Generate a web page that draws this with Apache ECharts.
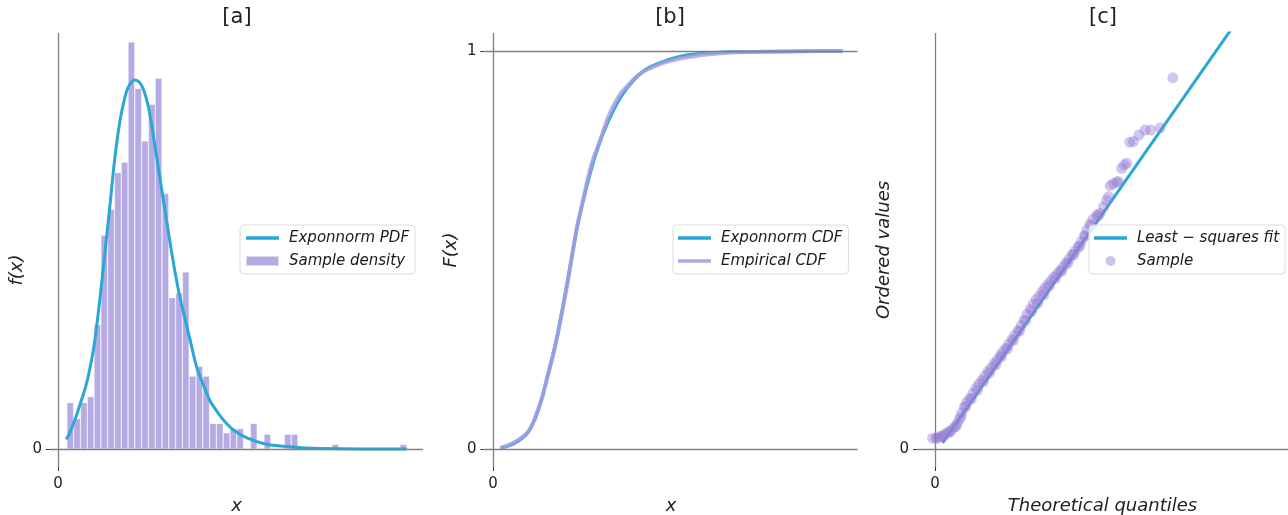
<!DOCTYPE html>
<html>
<head>
<meta charset="utf-8">
<script src="https://cdn.jsdelivr.net/npm/echarts@6/dist/echarts.min.js"></script>
<style>
  html, body { margin: 0; padding: 0; background: #fff; }
  #chart { width: 1288px; height: 515px; }
</style>
</head>
<body>
<div id="chart"></div>
<script>
// [a] histogram of the sample and fitted pdf
const binCenters = [0.18, 0.28, 0.38, 0.48, 0.58, 0.68, 0.78, 0.88, 0.98, 1.08,
  1.18, 1.28, 1.38, 1.48, 1.58, 1.68, 1.78, 1.88, 1.98, 2.08,
  2.18, 2.28, 2.38, 2.48, 2.58, 2.68, 2.78, 2.88, 2.98, 3.08,
  3.18, 3.28, 3.38, 3.48, 3.58, 3.68, 3.78, 3.88, 3.98, 4.08,
  4.18, 4.28, 4.38, 4.48, 4.58, 4.68, 4.78, 4.88, 4.98, 5.08];
const sampleDensity = [0.109, 0.072, 0.109, 0.123, 0.292, 0.501, 0.562, 0.648, 0.672, 0.954,
  0.845, 0.722, 0.808, 0.869, 0.599, 0.355, 0.366, 0.415, 0.171, 0.194,
  0.171, 0.060, 0.060, 0.038, 0.048, 0.048, 0, 0.060, 0, 0.035,
  0, 0, 0.035, 0.035, 0, 0, 0, 0, 0, 0.011,
  0, 0, 0, 0, 0, 0, 0, 0, 0, 0.011];
const pdfX = [0.12, 0.17, 0.22, 0.27, 0.32, 0.37, 0.42, 0.47, 0.52, 0.57, 0.62, 0.67, 0.72, 0.77, 0.82, 0.87,
  0.92, 0.97, 1.02, 1.07, 1.12, 1.17, 1.22, 1.27, 1.32, 1.37, 1.42, 1.47, 1.52, 1.57, 1.62, 1.67, 1.72, 1.77,
  1.84, 1.94, 2.04, 2.14, 2.24, 2.34, 2.44, 2.58, 2.78, 3.02, 3.27, 3.75, 5.13];
const pdfY = [0.023, 0.037, 0.057, 0.078, 0.103, 0.127, 0.154, 0.190, 0.232, 0.290, 0.357, 0.430, 0.505, 0.580, 0.660, 0.725,
  0.777, 0.815, 0.843, 0.858, 0.865, 0.863, 0.855, 0.837, 0.808, 0.767, 0.716, 0.665, 0.614, 0.563, 0.512, 0.463, 0.416, 0.374,
  0.324, 0.258, 0.192, 0.150, 0.112, 0.088, 0.067, 0.045, 0.026, 0.013, 0.007, 0.002, 0.000];

// [b] cdf
const cdfX = [0.11, 0.31, 0.50, 0.65, 0.80, 0.94, 1.09, 1.24, 1.39, 1.53, 1.68, 1.88, 2.07, 2.27, 2.51, 2.76, 3.00, 3.49, 5.14];
const cdfY = [0.002, 0.014, 0.039, 0.090, 0.180, 0.280, 0.416, 0.559, 0.668, 0.751, 0.818, 0.885, 0.927, 0.956, 0.973, 0.986, 0.992, 0.997, 1.0];
const ecdfX = [0.11, 0.20, 0.30, 0.40, 0.51, 0.58, 0.65, 0.73, 0.80, 0.88, 0.95, 1.02, 1.10, 1.17, 1.24, 1.32, 1.39,
  1.46, 1.54, 1.61, 1.68, 1.77, 1.88, 1.98, 2.08, 2.18, 2.32, 2.46, 2.61, 2.76, 2.90, 3.05, 3.27, 3.49, 3.93, 4.52, 5.14];
const ecdfY = [0.003, 0.008, 0.016, 0.026, 0.042, 0.062, 0.094, 0.133, 0.183, 0.234, 0.287, 0.348, 0.420, 0.492, 0.562, 0.622, 0.676,
  0.722, 0.759, 0.793, 0.828, 0.862, 0.894, 0.913, 0.931, 0.945, 0.957, 0.967, 0.975, 0.981, 0.985, 0.989, 0.993, 0.996, 0.998, 0.999, 1.0];

// [c] probability plot
const quantX = [-0.05, 0.02, 0.08, 0.14, 0.20, 0.26, 0.32, 0.38, 0.44, 0.48, 0.53, 0.58, 0.63, 0.69, 0.75, 0.81, 0.87, 0.93, 0.99,
  1.05, 1.11, 1.17, 1.23, 1.29, 1.34, 1.40, 1.46, 1.52, 1.58, 1.64, 1.70, 1.76, 1.82, 1.88, 1.94, 2.00, 2.06, 2.12,
  2.17, 2.23, 2.29, 2.35, 2.41, 2.47, 2.53, 2.59, 2.65, 2.71, 2.77, 2.83, 2.89, 2.95, 3.00, 3.06, 3.12, 3.20, 3.26,
  3.33, 3.39, 3.43, 3.46, 3.52, 3.59, 3.62, 3.69, 3.74, 3.79, 3.85, 3.92, 4.03, 4.15, 4.26, 4.45, 4.70,
  0.05, 0.17, 0.29, 0.41, 0.51, 0.61, 0.72, 0.84, 0.96, 1.08, 1.20, 1.31, 1.43, 1.55, 1.67, 1.79, 1.91, 2.03,
  2.15, 2.26, 2.38, 2.50, 2.62, 2.74, 2.86, 2.97, 3.09, 3.22];
const quantY = [0.15, 0.15, 0.17, 0.18, 0.21, 0.23, 0.26, 0.30, 0.35, 0.41, 0.50, 0.58, 0.65, 0.70, 0.77, 0.84, 0.90, 0.95, 1.01,
  1.07, 1.12, 1.18, 1.23, 1.29, 1.34, 1.39, 1.45, 1.51, 1.57, 1.63, 1.70, 1.78, 1.86, 1.93, 2.00, 2.06, 2.11, 2.17,
  2.22, 2.27, 2.32, 2.37, 2.41, 2.46, 2.51, 2.57, 2.62, 2.68, 2.73, 2.79, 2.86, 2.94, 3.02, 3.10, 3.17, 3.23, 3.25,
  3.34, 3.43, 3.48, 3.63, 3.66, 3.68, 3.69, 3.87, 3.92, 3.94, 4.23, 4.24, 4.33, 4.40, 4.40, 4.43, 5.12,
  0.15, 0.18, 0.23, 0.31, 0.44, 0.59, 0.69, 0.81, 0.93, 1.05, 1.16, 1.27, 1.38, 1.50, 1.63, 1.77, 1.90, 2.01,
  2.13, 2.25, 2.35, 2.45, 2.56, 2.68, 2.80, 2.94, 3.09, 3.21];
const fitX = [0.15, 6.2];
const fitY = [0.085, 6.135];

const FONT = 'DejaVu Sans';
const BLUE = '#2aa7d4';
const LAVENDER = '#b5aae4';
const GRAY = '#808080';

const lineIcon = 'path://M0,0M0,3.2L33,3.2L33,6.8L0,6.8ZM33,10';

function zip(xs, ys) {
  return xs.map((x, i) => [x, ys[i]]);
}

function zeroLines(extra) {
  return {
    silent: true,
    symbol: ['none', 'none'],
    label: { show: false },
    lineStyle: { color: GRAY, width: 1.3, type: 'solid' },
    data: [{ xAxis: 0 }, { yAxis: 0 }].concat(extra || []),
  };
}

function xAxisOf(gridIndex, min, max, name) {
  return {
    type: 'value',
    gridIndex,
    min,
    max,
    axisLine: { show: false, onZero: false },
    axisTick: { show: true, length: 4, customValues: [0], lineStyle: { color: '#333' } },
    axisLabel: { customValues: [0], fontSize: 15, color: '#222', margin: 10, fontFamily: FONT },
    splitLine: { show: false },
    name,
    nameLocation: 'middle',
    nameGap: 24,
    nameTextStyle: { fontStyle: 'italic', fontSize: 18, color: '#222', fontFamily: FONT },
  };
}

function yAxisOf(gridIndex, min, max, ticks, name, padding) {
  return {
    type: 'value',
    gridIndex,
    min,
    max,
    axisLine: { show: false, onZero: false },
    axisTick: { show: true, length: 4, customValues: ticks, lineStyle: { color: '#333' } },
    axisLabel: { customValues: ticks, fontSize: 15, color: '#222', margin: 8, fontFamily: FONT },
    splitLine: { show: false },
    name,
    nameLocation: 'middle',
    nameGap: 24,
    nameRotate: 90,
    nameTextStyle: { fontStyle: 'italic', fontSize: 18, color: '#222', fontFamily: FONT, padding: padding || 0 },
  };
}

function legendOf(left, items) {
  return {
    orient: 'vertical',
    left,
    top: 225,
    padding: [4, 6, 4, 5],
    itemWidth: 33,
    itemHeight: 10,
    itemGap: 5,
    backgroundColor: 'rgba(255,255,255,0.8)',
    borderColor: '#dcdcdc',
    borderWidth: 1,
    borderRadius: 4,
    selectedMode: false,
    textStyle: {
      fontSize: 15, fontStyle: 'italic', color: '#1a1a1a', fontFamily: FONT,
      lineHeight: 18, padding: [0, 0, 0, 5],
    },
    data: items,
  };
}

const titles = [['[a]', 237], ['[b]', 670], ['[c]', 1103]];

const option = {
  animation: false,
  backgroundColor: '#fff',
  textStyle: { fontFamily: FONT },
  graphic: titles.map(t => ({
    type: 'text',
    x: t[1],
    y: 18,
    style: { text: t[0], fontSize: 21, fontFamily: FONT, fill: '#222', align: 'center', verticalAlign: 'middle' },
  })),
  grid: [
    { left: 50, top: 33, width: 373, height: 434, outerBoundsMode: 'none' },
    { left: 484.5, top: 33, width: 373, height: 434, outerBoundsMode: 'none' },
    { left: 917, top: 33, width: 371, height: 434, outerBoundsMode: 'none' },
  ],
  xAxis: [
    xAxisOf(0, -0.118, 5.37, 'x'),
    xAxisOf(1, -0.125, 5.36, 'x'),
    xAxisOf(2, -0.356, 6.976, 'Theoretical quantiles'),
  ],
  yAxis: [
    yAxisOf(0, -0.042, 0.975, [0], 'f(x)', [0, 40, 0, 0]),
    yAxisOf(1, -0.045, 1.045, [0, 1], 'F(x)'),
    yAxisOf(2, -0.248, 5.738, [0], 'Ordered values'),
  ],
  legend: [
    legendOf(240, [
      { name: 'Exponnorm PDF', icon: lineIcon, itemStyle: { color: BLUE } },
      { name: 'Sample density', icon: 'rect', itemStyle: { color: LAVENDER } },
    ]),
    legendOf(673, [
      { name: 'Exponnorm CDF', icon: lineIcon, itemStyle: { color: BLUE } },
      { name: 'Empirical CDF', icon: lineIcon, itemStyle: { color: '#b3a8e4' } },
    ]),
    legendOf(1089, [
      { name: 'Least \u2212 squares fit', icon: lineIcon, itemStyle: { color: BLUE } },
      { name: 'Sample', icon: 'circle', itemStyle: { color: 'rgba(160,140,220,0.65)' } },
    ]),
  ],
  series: [
    {
      name: 'Sample density',
      type: 'bar',
      xAxisIndex: 0,
      yAxisIndex: 0,
      barWidth: 6.8,
      data: zip(binCenters, sampleDensity).filter(d => d[1] > 0),
      itemStyle: { color: LAVENDER, borderColor: 'rgba(255,255,255,0.55)', borderWidth: 0.6 },
      markLine: zeroLines(),
      z: 2,
    },
    {
      name: 'Exponnorm PDF',
      type: 'line',
      xAxisIndex: 0,
      yAxisIndex: 0,
      data: zip(pdfX, pdfY),
      smooth: 0.3,
      symbol: 'none',
      lineStyle: { color: BLUE, width: 3 },
      itemStyle: { color: BLUE },
      z: 3,
    },
    {
      name: 'Exponnorm CDF',
      type: 'line',
      xAxisIndex: 1,
      yAxisIndex: 1,
      data: zip(cdfX, cdfY),
      smooth: 0.3,
      symbol: 'none',
      lineStyle: { color: BLUE, width: 3.5 },
      itemStyle: { color: BLUE },
      markLine: zeroLines([{ yAxis: 1 }]),
      z: 2,
    },
    {
      name: 'Empirical CDF',
      type: 'line',
      xAxisIndex: 1,
      yAxisIndex: 1,
      data: zip(ecdfX, ecdfY),
      smooth: 0.2,
      symbol: 'none',
      lineStyle: { color: '#ad9fe2', width: 4, opacity: 0.8 },
      itemStyle: { color: '#b3a8e4' },
      z: 3,
    },
    {
      name: 'Least \u2212 squares fit',
      type: 'line',
      xAxisIndex: 2,
      yAxisIndex: 2,
      data: zip(fitX, fitY),
      symbol: 'none',
      lineStyle: { color: BLUE, width: 3 },
      itemStyle: { color: BLUE },
      markLine: zeroLines(),
      z: 2,
    },
    {
      name: 'Sample',
      type: 'scatter',
      xAxisIndex: 2,
      yAxisIndex: 2,
      data: zip(quantX, quantY),
      symbolSize: 11,
      itemStyle: { color: 'rgba(150,125,215,0.55)' },
      z: 3,
    },
  ],
};

const chart = echarts.init(document.getElementById('chart'));
chart.setOption(option);
</script>
</body>
</html>
